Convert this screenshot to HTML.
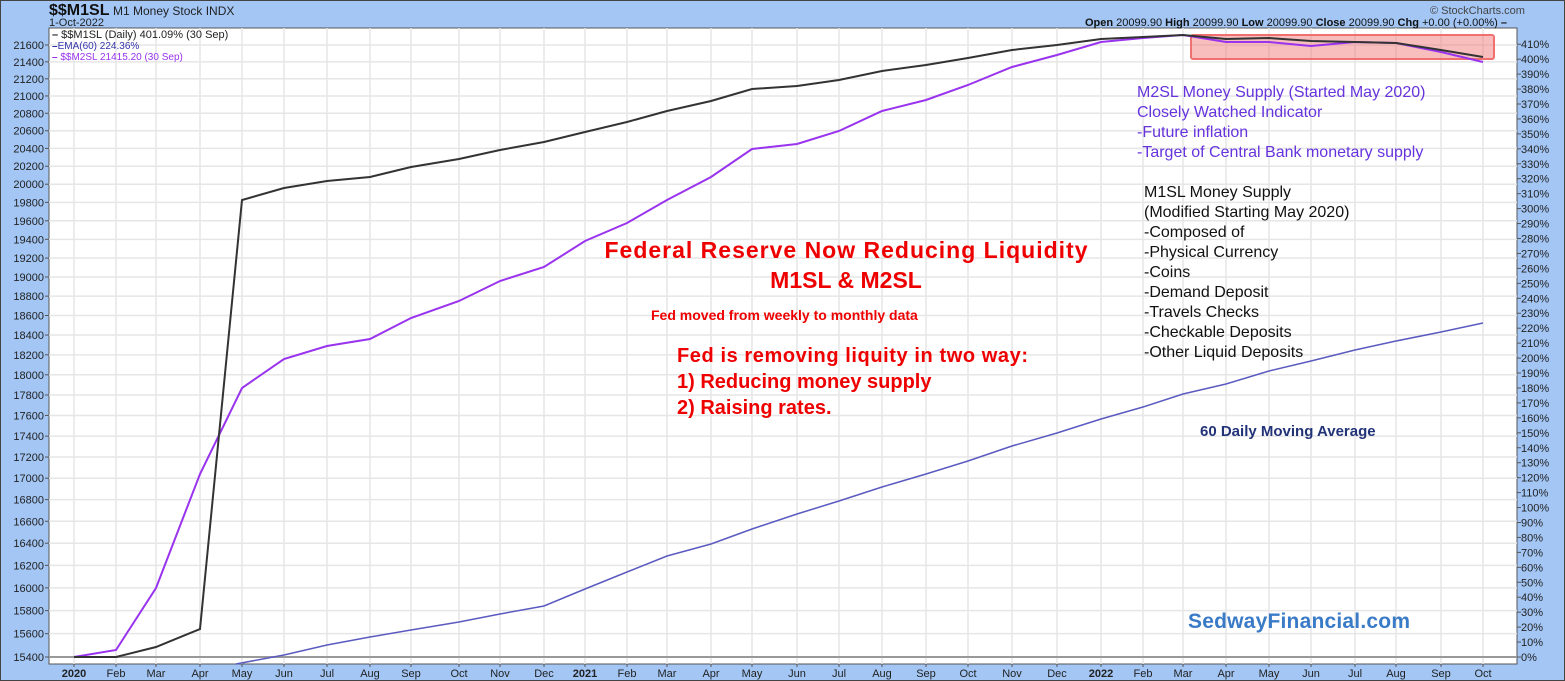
<!DOCTYPE html>
<html><head><style>
body{margin:0;background:#fff}
svg{display:block;font-family:"Liberation Sans",sans-serif}
</style></head><body>
<svg id="s" width="1565" height="681" xmlns="http://www.w3.org/2000/svg">
<rect x="0" y="0" width="1565" height="681" fill="#a3c6f5"/>
<rect x="0.5" y="0.5" width="1564" height="680" fill="none" stroke="#444" stroke-width="1"/>
<rect x="49" y="28" width="1468" height="636" fill="#fff" stroke="#555" stroke-width="1"/>
<g id="grid"></g>
<line x1="49" y1="657" x2="1517" y2="657" stroke="#999" stroke-width="2"/>
<rect x="1191" y="35" width="303" height="24" fill="rgba(240,110,110,0.45)" stroke="#f07070" stroke-width="2" rx="2"/>
<polyline id="ema" fill="none" stroke="#5a5ac0" stroke-width="1.5"/>
<polyline id="m2" fill="none" stroke="#9933ee" stroke-width="2"/>
<polyline id="m1" fill="none" stroke="#333" stroke-width="2"/>
<g id="labels" font-size="11" fill="#222"></g>
<text x="49" y="15" font-size="16" font-weight="bold" fill="#111">$$M1SL</text>
<text x="113" y="15" font-size="12" fill="#222">M1 Money Stock INDX</text>
<text x="49" y="26" font-size="11" fill="#222">1-Oct-2022</text>
<text x="1430" y="14" font-size="11" fill="#444">© StockCharts.com</text>
<text x="1085" y="26" font-size="11" fill="#111"><tspan font-weight="bold">Open</tspan> 20099.90  <tspan font-weight="bold">High</tspan> 20099.90  <tspan font-weight="bold">Low</tspan> 20099.90  <tspan font-weight="bold">Close</tspan> 20099.90  <tspan font-weight="bold">Chg</tspan> +0.00 (+0.00%) <tspan font-weight="bold">–</tspan></text>
<text x="52" y="38" font-size="11" fill="#222"><tspan font-weight="bold">–</tspan> $$M1SL (Daily) 401.09% (30 Sep)</text>
<text x="52" y="49" font-size="10" fill="#3333aa"><tspan font-weight="bold">–</tspan>EMA(60) 224.36%</text>
<text x="52" y="60" font-size="10" fill="#9933ee"><tspan font-weight="bold">–</tspan> $$M2SL 21415.20 (30 Sep)</text>
<g fill="#ee0000" font-weight="bold">
<text x="846" y="258" font-size="23" text-anchor="middle" textLength="483">Federal Reserve Now Reducing Liquidity</text>
<text x="846" y="288" font-size="23" text-anchor="middle">M1SL &amp; M2SL</text>
<text x="651" y="320" font-size="14">Fed moved from weekly to monthly data</text>
<text x="677" y="362" font-size="20" textLength="351">Fed is removing liquity in two way:</text>
<text x="677" y="388" font-size="20">1) Reducing money supply</text>
<text x="677" y="414" font-size="20">2) Raising rates.</text>
</g>
<g fill="#6633dd" font-size="16">
<text x="1137" y="97">M2SL Money Supply (Started May 2020)</text>
<text x="1137" y="117">Closely Watched Indicator</text>
<text x="1137" y="137">-Future inflation</text>
<text x="1137" y="157">-Target of Central Bank monetary supply</text>
</g>
<g fill="#111" font-size="16">
<text x="1144" y="197">M1SL Money Supply</text>
<text x="1144" y="217">(Modified Starting May 2020)</text>
<text x="1144" y="237">-Composed of</text>
<text x="1144" y="257">-Physical Currency</text>
<text x="1144" y="277">-Coins</text>
<text x="1144" y="297">-Demand Deposit</text>
<text x="1144" y="317">-Travels Checks</text>
<text x="1144" y="337">-Checkable Deposits</text>
<text x="1144" y="357">-Other Liquid Deposits</text>
</g>
<text x="1200" y="436" font-size="15" font-weight="bold" fill="#223377">60 Daily Moving Average</text>
<text x="1188" y="628" font-size="21" font-weight="bold" fill="#3a7bc8" textLength="222">SedwayFinancial.com</text>
</svg>
<script>
const NS="http://www.w3.org/2000/svg";
const grid=document.getElementById('grid'),lab=document.getElementById('labels');
function el(p,t,a,txt){const e=document.createElementNS(NS,t);for(const k in a)e.setAttribute(k,a[k]);if(txt!=null)e.textContent=txt;p.appendChild(e);return e;}
const xs=[74,116,156,200,242,284,327,370,411,459,500,544,585,627,667,711,752,797,839,882,926,968,1012,1057,1101,1143,1183,1226,1269,1311,1355,1396,1441,1483];
const mn=["Feb","Mar","Apr","May","Jun","Jul","Aug","Sep","Oct","Nov","Dec"];
xs.forEach((x,i)=>{
  el(grid,'line',{x1:x,y1:28,x2:x,y2:664,stroke:'#e6e6e6','stroke-width':1.5});
  let t,b=false;
  if(i%12==0){t=String(2020+i/12);b=true}else t=mn[(i%12)-1];
  const e=el(lab,'text',{x:x,y:677,'text-anchor':'middle'},t); if(b)e.setAttribute('font-weight','bold');
  el(lab,'line',{x1:x,y1:664,x2:x,y2:667,stroke:'#555'});
});
const L=Math.log(21600/15400);
for(let v=15400;v<=21600;v+=200){
  const y=657-612*Math.log(v/15400)/L;
  el(grid,'line',{x1:49,y1:y,x2:1517,y2:y,stroke:'#e6e6e6','stroke-width':1.5});
  el(lab,'text',{x:44,y:y+4,'text-anchor':'end'},String(v));
  el(lab,'line',{x1:45,y1:y,x2:49,y2:y,stroke:'#555'});
}
for(let p=0;p<=410;p+=10){
  const y=657-p*1.4946;
  el(lab,'line',{x1:1517,y1:y,x2:1521,y2:y,stroke:'#555'});
  el(lab,'text',{x:1521,y:y+4},p+'%');
}
function pl(id,a){document.getElementById(id).setAttribute('points',a.map((y,i)=>xs[i]+','+y).join(' '));}
pl('m1',[657,657,647,629,200,188,181,177,167,159,150,142,132,122,111,101,89,86,80,71,65,58,50,45,39,37,35,39,38,41,42,43,50,57]);
pl('m2',[657,650,588,474,388,359,346,339,318,301,281,267,241,223,200,177,149,144,131,111,100,85,67,55,42,38,35,42,42,46,42,43,52,62]);
document.getElementById('ema').setAttribute('points','236,664 '+[655,645,637,630,622,614,606,589,572,556,544,529,514,501,487,474,461,446,433,419,407,394,384,371,361,350,341,332,323].map((y,i)=>xs[i+5]+','+y).join(' '));
</script>
</body></html>
